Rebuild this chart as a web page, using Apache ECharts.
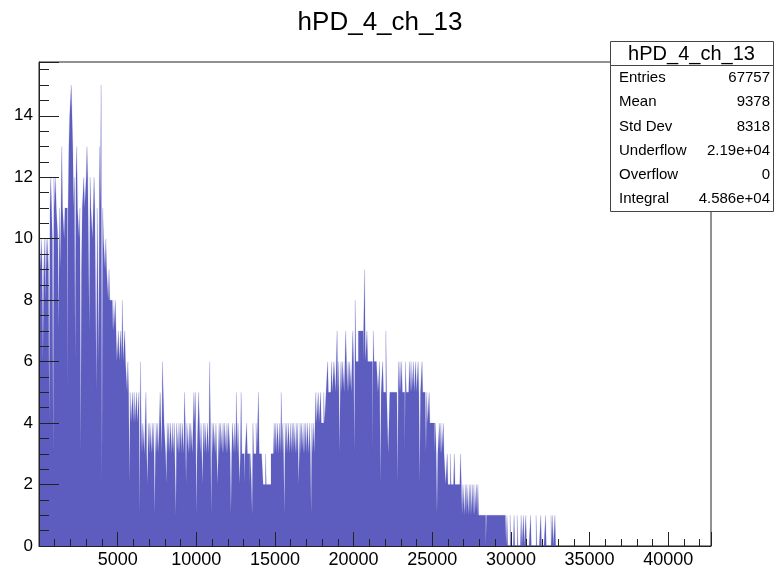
<!DOCTYPE html>
<html>
<head>
<meta charset="utf-8">
<script src="https://cdn.jsdelivr.net/npm/echarts@6/dist/echarts.min.js"></script>
<style>
html,body{margin:0;padding:0;background:#fff;}
#main{width:777px;height:573px;}
</style>
</head>
<body>
<div id="main"></div>
<script>
// ---- data (bin width 50, counts) ----
const binWidth = 50;
const xMax = 42720;
const yMax = 15.75;
const counts0to5k = [
  11,10,9,10,9,6,9,10,8,10, 9,10,9,4,11,12,11,10,3,12,
  11,12,11,11,10,7,11,9,11,13, 11,11,10,11,11,11,5,11,13,14,
  14,15,15,13,11,12,6,12,13,11, 11,10,11,3,9,11,11,12,11,11,
  12,13,12,12,7,12,11,11,10,11, 12,11,11,5,11,11,6,13,11,15,
  2,11,10,10,9,10,9,9,8,9, 8,8,8,7,8,7,7,8,7,6];
const counts5kto10k = [
  6,7,6,6,7,6,8,6,6,7, 6,6,5,6,5,2,5,4,4,5,
  4,5,4,4,5,4,4,5,1,6, 4,3,4,4,3,4,5,3,2,4,
  3,4,4,3,4,3,4,1,3,4, 3,4,3,4,5,4,3,6,5,4,
  4,3,2,4,3,4,3,4,4,3, 4,3,4,4,1,4,4,3,4,3,
  4,3,4,4,3,5,4,2,4,4, 3,4,3,4,4,3,4,5,4,5];
const counts10kto15k = [
  1,3,4,5,4,3,4,4,2,4, 3,4,4,3,4,4,3,6,4,1,
  4,3,4,4,3,4,4,2,3,4, 3,4,4,3,4,3,4,4,3,4,
  3,4,4,3,1,3,4,4,3,4, 3,5,3,4,3,2,3,5,3,3,
  3,2,3,3,4,3,3,3,2,3, 3,1,4,3,3,3,4,3,3,5,
  3,3,3,3,3,2,2,2,3,2, 2,2,2,2,2,3,3,3,3,4];
const counts15kto20k = [
  3,4,3,4,4,3,4,3,5,3, 4,3,1,4,3,4,3,4,4,3,
  4,3,4,3,4,4,3,4,3,4, 2,3,4,3,4,4,3,4,3,4,
  3,4,4,3,4,3,1,4,3,4, 3,4,5,4,4,5,4,4,5,4,
  4,4,5,4,4,5,5,6,5,5, 5,5,6,5,5,6,6,5,6,7,
  5,6,3,5,6,5,6,6,5,6, 7,6,5,6,5,6,6,5,6,7];
const counts20kto25k = [
  6,3,8,6,6,6,7,7,7,7, 7,7,6,6,9,6,6,7,6,6,
  6,6,6,6,3,7,6,6,6,6, 6,5,5,6,2,5,5,6,5,5,
  5,7,5,5,3,4,5,5,5,5, 5,5,5,5,5,5,2,6,5,6,
  5,6,5,5,5,3,6,5,5,5, 5,6,5,6,5,5,6,5,5,6,
  5,5,6,5,2,5,5,6,5,5, 5,5,3,5,4,4,5,4,4,4];
const counts25kto30k = [
  4,4,4,3,4,3,1,3,3,4, 3,4,3,3,4,3,3,2,2,3,
  2,2,2,3,2,2,2,2,3,2, 2,2,2,2,2,2,3,2,1,2,
  2,1,2,1,2,2,1,2,1,2, 1,2,1,2,1,1,2,1,2,1,
  1,1,1,1,1,1,1,1,0,1, 1,1,1,1,1,1,1,1,1,1,
  1,1,1,1,1,1,1,1,1,1, 1,1,1,1,0,1,0,0,0,1];
const counts30kto33k = [
  0,0,0,0,1,0,0,0,1,0, 0,0,0,1,0,0,1,0,0,1,
  0,0,0,0,0,1,0,0,0,0, 0,0,1,0,0,0,0,0,1,0,
  0,0,0,0,1,0,0,0,0,0, 0,1,0,1,0,0,1,0,0,0];

const statsTitle = 'hPD_4_ch_13';
const statsLabels = ['Entries','Mean','Std Dev','Underflow','Overflow','Integral'];
const statsValues = ['67757','9378','8318','2.19e+04','0','4.586e+04'];
const chartTitle = 'hPD_4_ch_13';

// ---- build ----
const allCounts = [].concat(counts0to5k, counts5kto10k, counts10kto15k, counts15kto20k, counts20kto25k, counts25kto30k, counts30kto33k);
const histData = allCounts.map((c, i) => [i * binWidth, c]);
histData.push([allCounts.length * binWidth, 0]);

const FONT = '"Liberation Sans", Arial, Helvetica, sans-serif';
const chart = echarts.init(document.getElementById('main'), null, {renderer: 'canvas'});

const box = {x: 610, y: 41, w: 163, h: 170, titleH: 24};
const graphics = [
  {type: 'rect', z: 100, shape: {x: box.x + 0.5, y: box.y + 0.5, width: box.w, height: box.h},
   style: {fill: '#fff', stroke: '#444', lineWidth: 1}},
  {type: 'line', z: 101, shape: {x1: box.x, y1: box.y + box.titleH + 0.5, x2: box.x + box.w, y2: box.y + box.titleH + 0.5},
   style: {stroke: '#444', lineWidth: 1}},
  {type: 'text', z: 102, style: {text: statsTitle, x: box.x + box.w / 2, y: box.y + box.titleH / 2 + 1,
   font: '20px ' + FONT, fill: '#000', align: 'center', verticalAlign: 'middle', textAlign: 'center', textVerticalAlign: 'middle'}}
];
const rowY = [78, 102, 126.5, 150.5, 175, 198.5];
statsLabels.forEach((lab, i) => {
  graphics.push({type: 'text', z: 102, style: {text: lab, x: 619, y: rowY[i], font: '15px ' + FONT, fill: '#000',
    align: 'left', verticalAlign: 'middle', textAlign: 'left', textVerticalAlign: 'middle'}});
  graphics.push({type: 'text', z: 102, style: {text: statsValues[i], x: 770, y: rowY[i], font: '15px ' + FONT, fill: '#000',
    align: 'right', verticalAlign: 'middle', textAlign: 'right', textVerticalAlign: 'middle'}});
});

const option = {
  animation: false,
  backgroundColor: '#fff',
  title: {
    text: chartTitle, left: 375, top: 5, textAlign: 'center',
    textStyle: {fontFamily: FONT, fontSize: 26, fontWeight: 'normal', color: '#000'}
  },
  grid: {left: 39, right: 66, top: 62, bottom: 27, show: true, borderColor: '#222', borderWidth: 1, backgroundColor: 'transparent', containLabel: false},
  xAxis: {
    type: 'value', min: 0, max: xMax, interval: 5000, z: 10,
    axisLine: {show: true, onZero: false, lineStyle: {color: '#222', width: 1}},
    axisTick: {show: true, inside: true, length: 14, lineStyle: {color: '#222', width: 1}},
    minorTick: {show: true, splitNumber: 5, length: 7, lineStyle: {color: '#222', width: 1}},
    splitLine: {show: false}, minorSplitLine: {show: false},
    axisLabel: {margin: 5, fontFamily: FONT, fontSize: 18, color: '#000',
      formatter: v => (v > 0 && v % 5000 === 0) ? String(v) : ''},
  },
  yAxis: {
    type: 'value', min: 0, max: yMax, interval: 2, z: 10,
    axisLine: {show: true, onZero: false, lineStyle: {color: '#222', width: 1}},
    axisTick: {show: true, inside: true, length: 20, lineStyle: {color: '#222', width: 1}},
    minorTick: {show: true, splitNumber: 4, length: 10, lineStyle: {color: '#222', width: 1}},
    splitLine: {show: false}, minorSplitLine: {show: false},
    axisLabel: {margin: 6, fontFamily: FONT, fontSize: 17, color: '#000',
      formatter: v => (v % 2 === 0) ? String(v) : ''},
  },
  series: [{
    type: 'line', step: 'end', data: histData, symbol: 'none', z: 2,
    lineStyle: {width: 0.5, color: '#5d5dc0', opacity: 0.35},
    areaStyle: {color: '#5d5dc0', opacity: 1},
    silent: true
  }],
  graphic: graphics
};
chart.setOption(option);
</script>
</body>
</html>
